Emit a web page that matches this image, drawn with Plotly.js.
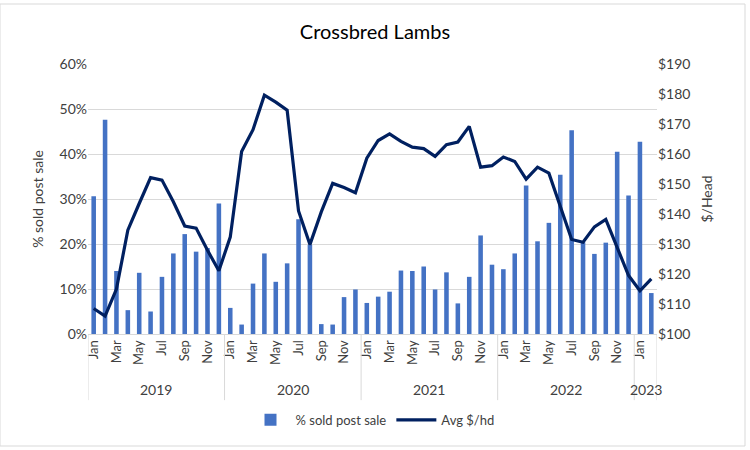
<!DOCTYPE html>
<html>
<head>
<meta charset="utf-8">
<script src="https://cdn.plot.ly/plotly-3.0.1.min.js"></script>
<style>
  html, body { margin: 0; padding: 0; background: #fff; }
  #chart { width: 750px; height: 450px; }
</style>
</head>
<body>
<div id="chart"></div>
<script>
// ---- Data ----
const monthNames = ["Jan","Feb","Mar","Apr","May","Jun","Jul","Aug","Sep","Oct","Nov","Dec"];
const years = ["2019","2020","2021","2022","2023"];
const monthsPerYear = [12, 12, 12, 12, 2];

// % sold post sale (fraction)
const pctSoldPostSale = [
  0.306, 0.476, 0.140, 0.053, 0.136, 0.050, 0.127, 0.179, 0.222, 0.183, 0.191, 0.290,
  0.058, 0.021, 0.112, 0.179, 0.116, 0.157, 0.255, 0.198, 0.022, 0.021, 0.082, 0.099,
  0.069, 0.083, 0.094, 0.141, 0.140, 0.150, 0.099, 0.137, 0.068, 0.127, 0.219, 0.154,
  0.144, 0.179, 0.330, 0.206, 0.247, 0.354, 0.453, 0.204, 0.178, 0.203, 0.405, 0.308,
  0.427, 0.091
];

// Avg $/hd
const avgPerHead = [
  108.5, 106.0, 115.0, 134.6, 143.5, 152.1, 151.3, 144.1, 136.0, 135.3, 127.9, 121.1,
  132.3, 160.8, 168.1, 179.6, 177.3, 174.6, 141.0, 129.8, 140.7, 150.2, 148.8, 147.1,
  158.6, 164.5, 166.7, 164.2, 162.3, 161.8, 159.2, 163.1, 164.0, 169.2, 155.6, 156.1,
  159.0, 157.5, 151.6, 155.6, 153.6, 142.9, 131.5, 130.6, 135.7, 138.2, 129.0, 119.5,
  114.4, 118.4
];

// ---- Build categories ----
const xCats = [];
const tickVals = [];
const tickText = [];
years.forEach((yr, yi) => {
  for (let m = 0; m < monthsPerYear[yi]; m++) {
    const lab = monthNames[m] + " " + yr;
    xCats.push(lab);
    if (m % 2 === 0) { tickVals.push(lab); tickText.push(monthNames[m]); }
  }
});

const font = "Lato, 'Open Sans', sans-serif";
const textCol = "#404040";

// Year group separators and labels
const shapes = [];
const annotations = [];
let start = 0;
const sepTop = 0, sepBottom = -0.245;
shapes.push({type: "line", xref: "x", yref: "paper", x0: -0.5, x1: -0.5, y0: sepTop, y1: sepBottom,
             line: {color: "#d9d9d9", width: 1}});
years.forEach((yr, yi) => {
  const end = start + monthsPerYear[yi];
  shapes.push({type: "line", xref: "x", yref: "paper", x0: end - 0.5, x1: end - 0.5, y0: sepTop, y1: sepBottom,
               line: {color: "#d9d9d9", width: 1}});
  annotations.push({xref: "x", yref: "paper", x: (start + end - 1) / 2, y: -0.205,
                    text: yr, showarrow: false, yanchor: "middle",
                    font: {family: font, size: 14, color: textCol}});
  start = end;
});

const traces = [
  {
    type: "bar",
    name: "% sold post sale",
    x: xCats,
    y: pctSoldPostSale,
    marker: {color: "#4472C4"},
    yaxis: "y",
    hoverinfo: "x+y"
  },
  {
    type: "scatter",
    mode: "lines",
    name: "Avg $/hd",
    x: xCats,
    y: avgPerHead,
    line: {color: "#002060", width: 3.2},
    yaxis: "y2"
  }
];

const layout = {
  width: 750,
  height: 450,
  margin: {l: 88, r: 93, t: 64, b: 116},
  paper_bgcolor: "#ffffff",
  plot_bgcolor: "#ffffff",
  font: {family: font, size: 13, color: textCol},
  title: {
    text: "Crossbred Lambs",
    x: 0.5, xanchor: "center",
    y: 0.928, yref: "container", yanchor: "middle",
    font: {family: font, size: 20, color: "#000000"}
  },
  bargap: 0.6,
  showlegend: true,
  legend: {
    orientation: "h",
    x: 0.5, xanchor: "center",
    y: -0.318, yanchor: "middle",
    font: {family: font, size: 13, color: textCol},
    itemwidth: 40
  },
  xaxis: {
    type: "category",
    range: [-0.5, xCats.length - 0.5],
    tickmode: "array",
    tickvals: tickVals,
    ticktext: tickText,
    tickangle: -90,
    ticks: "",
    showgrid: false,
    showline: true,
    linecolor: "#d9d9d9",
    linewidth: 1,
    tickfont: {family: font, size: 13, color: textCol},
    fixedrange: true
  },
  yaxis: {
    range: [0, 0.6],
    dtick: 0.1,
    tickformat: ".0%",
    showgrid: true,
    gridcolor: "#d9d9d9",
    gridwidth: 1,
    zeroline: false,
    showline: false,
    ticks: "",
    ticklen: 6,
    tickfont: {family: font, size: 14, color: textCol},
    title: {text: "% sold post sale", font: {family: font, size: 14, color: textCol}, standoff: 12}
  },
  yaxis2: {
    overlaying: "y",
    side: "right",
    range: [100, 190],
    dtick: 10,
    tickprefix: "$",
    showgrid: false,
    zeroline: false,
    showline: false,
    ticks: "",
    tickfont: {family: font, size: 14, color: textCol},
    title: {text: "$/Head", font: {family: font, size: 14, color: textCol}, standoff: 12}
  },
  shapes: shapes.concat([{
    type: "rect", xref: "paper", yref: "paper",
    x0: -88/569, x1: 1 + 88/569, y0: -112/270, y1: 1 + 60/270,
    line: {color: "#d9d9d9", width: 1}
  }]),
  annotations: annotations
};

Plotly.newPlot("chart", traces, layout, {displayModeBar: false, staticPlot: true});
</script>
</body>
</html>
